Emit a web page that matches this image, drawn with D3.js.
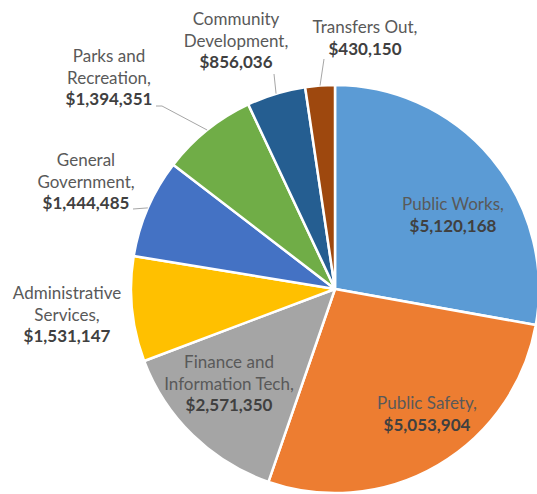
<!DOCTYPE html>
<html>
<head>
<meta charset="utf-8">
<script src="https://cdn.jsdelivr.net/npm/d3@7/dist/d3.min.js"></script>
<style>
  html, body { margin: 0; padding: 0; background: #ffffff; }
  svg { display: block; }
  .name { font-family: Lato, "Open Sans", sans-serif; font-size: 17px; fill: #595959; }
  .value { font-family: Lato, "Open Sans", sans-serif; font-size: 17px; font-weight: bold; fill: #404040; }
</style>
</head>
<body>
<script>
// Expenditures by department, clockwise from 12 o'clock
const departments = [
  "Public Works",
  "Public Safety",
  "Finance and Information Tech",
  "Administrative Services",
  "General Government",
  "Parks and Recreation",
  "Community Development",
  "Transfers Out"
];
const amounts = [5120168, 5053904, 2571350, 1531147, 1444485, 1394351, 856036, 430150];
const sliceColors = ["#5B9BD5", "#ED7D31", "#A5A5A5", "#FFC000", "#4472C4", "#70AD47", "#255E91", "#9E480E"];

// Label text lines (the amount is appended as a bold last line)
const nameLines = [
  ["Public Works,"],
  ["Public Safety,"],
  ["Finance and", "Information Tech,"],
  ["Administrative", "Services,"],
  ["General", "Government,"],
  ["Parks and", "Recreation,"],
  ["Community", "Development,"],
  ["Transfers Out,"]
];

// Label placement: centre x, baseline of first line, and optional leader start points
const labelLayout = [
  { x: 453, y: 210 },
  { x: 427, y: 409 },
  { x: 229, y: 368 },
  { x: 67,  y: 299 },
  { x: 86,  y: 166, leader: [[133, 209]] },
  { x: 109, y: 62,  leader: [[156, 106], [162, 106]] },
  { x: 236, y: 25,  leader: [[274, 74]] },
  { x: 365, y: 33,  leader: [[324, 59]] }
];

const width = 537, height = 494;
const cx = 335, cy = 289, radius = 204;
const lineGap = 21.5;

const svg = d3.select("body").append("svg")
  .attr("width", width)
  .attr("height", height);

svg.append("rect").attr("width", width).attr("height", height).attr("fill", "#ffffff");

const data = departments.map((d, i) => ({ name: d, value: amounts[i], i }));

const pie = d3.pie().value(d => d.value).sort(null);
const arcs = pie(data);

const arc = d3.arc().innerRadius(0).outerRadius(radius);

const g = svg.append("g").attr("transform", `translate(${cx},${cy})`);

g.selectAll("path.slice")
  .data(arcs)
  .join("path")
  .attr("class", "slice")
  .attr("d", arc)
  .attr("fill", d => sliceColors[d.data.i])
  .attr("stroke", "#ffffff")
  .attr("stroke-width", 2.5)
  .attr("stroke-linejoin", "round");

// Leader lines from outside labels to the slice rim
const fmt = v => "$" + d3.format(",")(v);
arcs.forEach(a => {
  const i = a.data.i;
  const start = labelLayout[i].leader;
  if (!start) return;
  const mid = (a.startAngle + a.endAngle) / 2;
  const end = [cx + radius * Math.sin(mid), cy - radius * Math.cos(mid)];
  svg.append("path")
    .attr("d", d3.line()(start.concat([end])))
    .attr("fill", "none")
    .attr("stroke", "#a6a6a6")
    .attr("stroke-width", 1);
});

// Labels
data.forEach(d => {
  const lay = labelLayout[d.i];
  const t = svg.append("text").attr("text-anchor", "middle");
  const lines = nameLines[d.i];
  lines.forEach((ln, k) => {
    t.append("tspan")
      .attr("class", "name")
      .attr("x", lay.x)
      .attr("y", lay.y + k * lineGap)
      .text(ln);
  });
  t.append("tspan")
    .attr("class", "value")
    .attr("x", lay.x)
    .attr("y", lay.y + lines.length * lineGap)
    .text(fmt(d.value));
});
</script>
</body>
</html>
